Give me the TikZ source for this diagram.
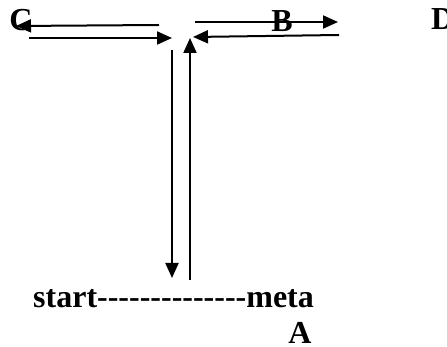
\documentclass[tikz,border=0pt]{standalone}
\usepackage{fontspec}
\setmainfont{Liberation Serif}[Ligatures=TeXOff]
\usetikzlibrary{arrows.meta}
\tikzset{flow/.style={line width=2pt,-{Triangle[length=15pt,width=13pt]}},
  lbl/.style={font=\fontsize{32}{36}\selectfont\bfseries,inner sep=0pt,anchor=base}}
\begin{document}
\begin{tikzpicture}[x=1pt,y=-1pt]
    \useasboundingbox (0,0) rectangle (447,347);
    \node[lbl] (C) at (21,31) {C};
    \node[lbl] (B) at (282,32) {B};
    \node[lbl,anchor=base west] (D) at (431,30) {D};
    \node[lbl,anchor=base west] (path) at (33,308) {start--------------meta};
    \node[lbl] (A) at (300,343) {A};
    % ends of the arrows
    \coordinate (cs) at (159,25); \coordinate (ce) at (16,26);
    \coordinate (ls) at (29,38);  \coordinate (le) at (172,38);
    \coordinate (ds) at (172,50); \coordinate (de) at (172,278);
    \coordinate (us) at (190,280); \coordinate (ue) at (190,38);
    \coordinate (bs) at (195,22); \coordinate (be) at (338,22);
    \coordinate (rs) at (339,35); \coordinate (re) at (193,37);
    \draw[flow] (cs)--(ce);
    \draw[flow] (ls)--(le);
    \draw[flow] (ds)--(de);
    \draw[flow] (us)--(ue);
    \draw[flow] (bs)--(be);
    \draw[flow] (rs)--(re);
\end{tikzpicture}
\end{document}
